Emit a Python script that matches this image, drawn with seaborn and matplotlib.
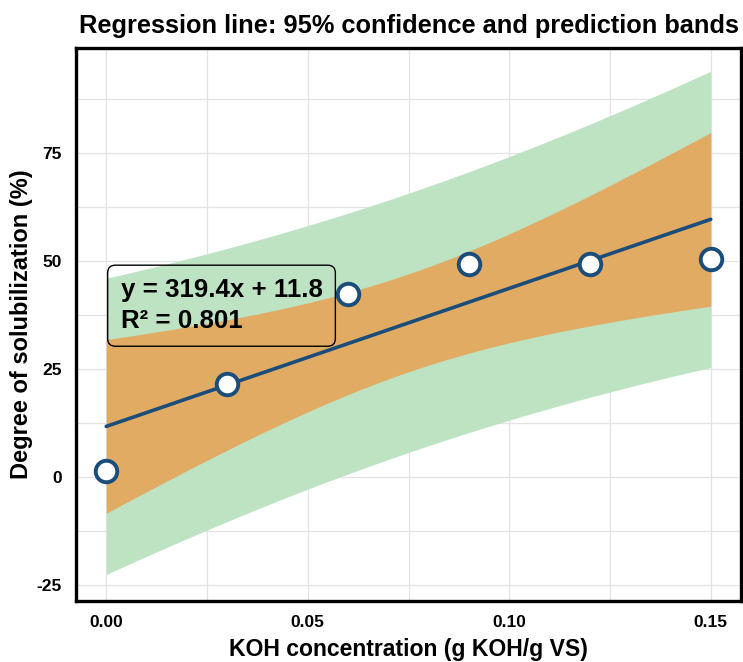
import numpy as np
import pandas as pd
import matplotlib
matplotlib.use("Agg")
import matplotlib.pyplot as plt
import seaborn as sns
from matplotlib.ticker import MultipleLocator

# ---- data ----
koh = [0.00, 0.03, 0.06, 0.09, 0.12, 0.15]
solubilization = [1.4, 21.5, 42.4, 49.3, 49.3, 50.5]
x_ticks = [0.00, 0.05, 0.10, 0.15]
x_tick_labels = ["0.00", "0.05", "0.10", "0.15"]
y_ticks = [-25, 0, 25, 50, 75]
y_tick_labels = ["-25", "0", "25", "50", "75"]
eq_text = "y = 319.4x + 11.8\nR² = 0.801"

sns.set_theme(style="whitegrid")
plt.rcParams['font.family'] = ['Liberation Sans', 'DejaVu Sans']
plt.rcParams['text.color'] = 'black'
plt.rcParams['axes.labelcolor'] = 'black'
plt.rcParams['xtick.color'] = 'black'
plt.rcParams['ytick.color'] = 'black'

df = pd.DataFrame({"x": koh, "y": solubilization})
x = np.asarray(koh); y = np.asarray(solubilization)
n = len(x)
slope, intercept = np.polyfit(x, y, 1)
resid = y - (slope * x + intercept)
s = np.sqrt(np.sum(resid ** 2) / (n - 2))
t = 2.776  # t(0.975, df=4)
sxx = np.sum((x - x.mean()) ** 2)
xs = np.linspace(x.min(), x.max(), 200)
yfit = slope * xs + intercept
ci = t * s * np.sqrt(1 / n + (xs - x.mean()) ** 2 / sxx)
pi = t * s * np.sqrt(1 + 1 / n + (xs - x.mean()) ** 2 / sxx)
fit_df = pd.DataFrame({"x": xs, "y": yfit})

fig = plt.figure(figsize=(7.43, 6.62), dpi=100)
ax = fig.add_axes([0.1023, 0.0921, 0.8950, 0.8354])

green = "#bde3c3"
orange = "#e2ab64"
blue = "#1b4d7a"

ax.fill_between(xs, yfit - pi, yfit + pi, color=green, lw=0, zorder=1)
ax.fill_between(xs, yfit - ci, yfit + ci, color=orange, lw=0, zorder=2)
sns.lineplot(data=fit_df, x="x", y="y", ax=ax, color=blue, lw=2.6, zorder=3)
sns.scatterplot(data=df, x="x", y="y", ax=ax, s=240, color="white",
                edgecolor=blue, linewidth=2.8, zorder=4)

ax.set_xlim(-0.0075, 0.1575)
ax.set_ylim(-28.7, 99.4)
ax.set_xticks(x_ticks)
ax.set_xticklabels(x_tick_labels, fontsize=12.5, fontweight="bold")
ax.set_yticks(y_ticks)
ax.set_yticklabels(y_tick_labels, fontsize=12.5, fontweight="bold")
ax.xaxis.set_minor_locator(MultipleLocator(0.025))
ax.yaxis.set_minor_locator(MultipleLocator(12.5))
ax.grid(which="both", color="#e3e3e3", lw=0.9)
ax.tick_params(which="both", length=0, pad=10)

for sp in ax.spines.values():
    sp.set_color("black")
    sp.set_linewidth(2.4)

ax.set_xlabel("KOH concentration (g KOH/g VS)", fontsize=16.6, fontweight="bold", labelpad=6)
ax.set_ylabel("Degree of solubilization (%)", fontsize=17, fontweight="bold", labelpad=3)
ax.set_title("Regression line: 95% confidence and prediction bands",
             fontsize=18.3, fontweight="bold", pad=11)

ax.text(0.067, 0.534, eq_text, transform=ax.transAxes, fontsize=18.6, fontweight="bold",
        va="center", ha="left", linespacing=1.38, zorder=5,
        bbox=dict(boxstyle="round,pad=0.5,rounding_size=0.3", facecolor="none",
                  edgecolor="black", lw=1.0))

fig.savefig("out.png", dpi=100)
